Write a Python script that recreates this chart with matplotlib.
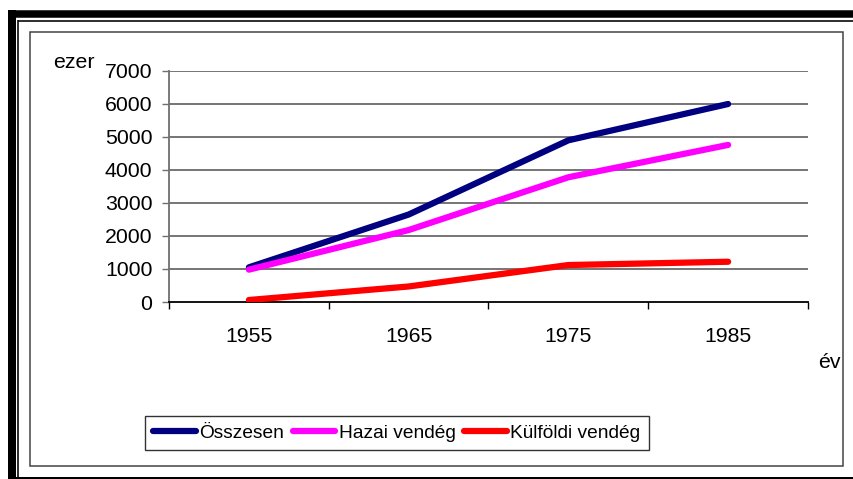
import matplotlib.pyplot as plt
from matplotlib.lines import Line2D
from matplotlib.patches import Rectangle

plt.rcParams['font.family'] = ['Liberation Sans', 'DejaVu Sans']

years = ['1955', '1965', '1975', '1985']
osszesen = [1050, 2650, 4900, 6000]
hazai = [980, 2180, 3780, 4760]
kulfoldi = [60, 470, 1120, 1220]
yticks = [0, 1000, 2000, 3000, 4000, 5000, 6000, 7000]

W, H = 854, 479
fig = plt.figure(figsize=(W / 100, H / 100), dpi=100)


def px(x, y):
    return x / W, 1 - y / H


def fig_line(x0, y0, x1, y1, lw_px, color='black'):
    (a, b), (c, d) = px(x0, y0), px(x1, y1)
    fig.add_artist(Line2D([a, c], [b, d], transform=fig.transFigure,
                          color=color, lw=lw_px * 0.72, solid_capstyle='butt'))


# --- outer frame ---
fig_line(12, 10, 12, 479, 8)
fig_line(8, 13.8, 854, 13.8, 7.5)
fig_line(8, 477.5, 854, 477.5, 3)
fig_line(18.5, 20, 18.5, 479, 1.6)
fig_line(18, 20.5, 854, 20.5, 1.6)
x0, y0 = px(30, 466)
fig.add_artist(Rectangle((x0, y0), (843 - 30) / W, (466 - 32) / H,
                         transform=fig.transFigure, fill=False,
                         edgecolor='#404040', lw=1.5 * 0.72))

# --- plot area ---
ax = fig.add_axes([169 / W, 1 - 302 / H, (808 - 169) / W, (302 - 71) / H])
x = range(len(years))
ax.plot(x, osszesen, color='#000080', lw=4.5, solid_capstyle='round', label='Összesen', zorder=3)
ax.plot(x, hazai, color='#ff00ff', lw=4.5, solid_capstyle='round', label='Hazai vendég', zorder=3)
ax.plot(x, kulfoldi, color='#ff0000', lw=4.5, solid_capstyle='round', label='Külföldi vendég', zorder=3)

ax.set_xlim(-0.5, len(years) - 0.5)
ax.set_ylim(0, 7000)
ax.set_yticks(yticks)
ax.set_yticklabels([str(v) for v in yticks])
ax.set_xticks(list(x))
ax.set_xticklabels(years)
ax.set_xticks([i - 0.5 for i in range(len(years) + 1)], minor=True)
ax.tick_params(axis='x', which='major', length=0, pad=18, labelsize=15.3)
ax.tick_params(axis='x', which='minor', length=5, width=1, color='black', direction='out')
ax.tick_params(axis='y', length=5, width=1, color='#707070', pad=7, labelsize=15.3)

for v in yticks[1:]:
    ax.axhline(v, color='#6a6a6a', lw=1.3, zorder=1)
for s in ['top', 'right']:
    ax.spines[s].set_visible(False)
ax.spines['left'].set_color('#707070')
ax.spines['left'].set_linewidth(1.3)
ax.spines['bottom'].set_color('black')
ax.spines['bottom'].set_linewidth(1.3)

fig.text(*px(74, 62), 'ezer', fontsize=15.3, ha='center', va='center')
fig.text(*px(829, 362), 'év', fontsize=15.3, ha='center', va='center')

leg = fig.legend(loc='center', bbox_to_anchor=px(397, 433), ncol=3, fontsize=13.8,
                 frameon=True, fancybox=False, handlelength=2.2, handletextpad=0.2,
                 columnspacing=0.45, borderpad=0.45, borderaxespad=0)
leg.get_frame().set_edgecolor('black')
leg.get_frame().set_linewidth(1)
for ln in leg.get_lines():
    ln.set_linewidth(4.5)

fig.savefig('out.png', dpi=100)
